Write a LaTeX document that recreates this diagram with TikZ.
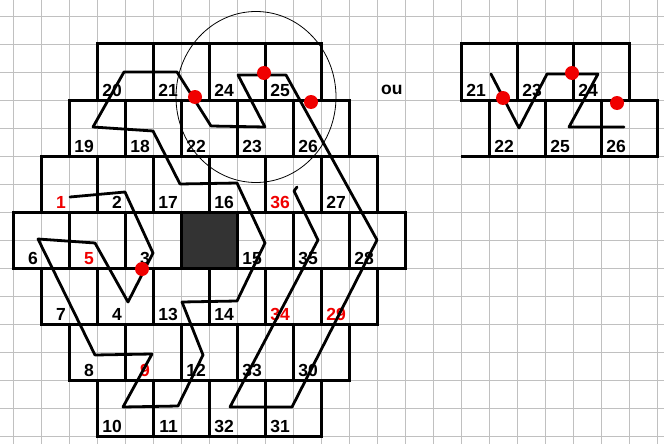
\documentclass[tikz,border=0pt]{standalone}
\usepackage{fontspec}
\setmainfont{Liberation Sans}
\usetikzlibrary{calc}
\definecolor{gridc}{RGB}{192,192,192}
\definecolor{redc}{RGB}{240,0,0}
\definecolor{darkc}{RGB}{51,51,51}
\tikzset{
  gridline/.style={draw=gridc, line width=0.9pt},
  cell/.style={draw=black, line width=3pt, rectangle, minimum width=56pt, minimum height=56pt, inner sep=0pt, outer sep=0pt, anchor=north west},
  darkcell/.style={cell, fill=darkc},
  lab/.style={font=\bfseries\fontsize{17.5}{18}\selectfont, inner sep=0pt, anchor=base east},
  redlab/.style={lab, text=redc},
  route/.style={draw=black, line width=2.8pt, line join=round, line cap=round},
  dot/.style={fill=redc, draw=none},
  ring/.style={draw=black, line width=0.8pt}
}
\newcommand\mycell[4]{%
  \node[cell] (c#3) at (#1,#2) {};
  \node[lab] (t#3) at (#1+25,#2+52) {#3};}
\newcommand\myredcell[4]{%
  \node[cell] (c#3) at (#1,#2) {};
  \node[redlab] (t#3) at (#1+25,#2+52) {#3};}
\newcommand\myrcell[3]{%
  \node[cell] (r#3) at (#1,#2) {};
  \node[lab] (rt#3) at (#1+25,#2+52) {#3};}
\begin{document}
\begin{tikzpicture}[x=1pt,y=-1pt]
\useasboundingbox (0,0) rectangle (664,444);
\fill[white] (0,0) rectangle (664,444);
% background grid
\foreach \i in {0,...,23} \draw[gridline] (13+28*\i,0) -- (13+28*\i,444);
\foreach \j in {0,...,15} \draw[gridline] (0,16+28*\j) -- (664,16+28*\j);
% row 0
\mycell{97}{44}{20}{}
\mycell{153}{44}{21}{}
\mycell{209}{44}{24}{}
\mycell{265}{44}{25}{}
% row 1
\mycell{69}{100}{19}{}
\mycell{125}{100}{18}{}
\mycell{181}{100}{22}{}
\mycell{237}{100}{23}{}
\mycell{293}{100}{26}{}
% row 2
\myredcell{41}{156}{1}{}
\mycell{97}{156}{2}{}
\mycell{153}{156}{17}{}
\mycell{209}{156}{16}{}
\myredcell{265}{156}{36}{}
\mycell{321}{156}{27}{}
% row 3
\mycell{13}{212}{6}{}
\myredcell{69}{212}{5}{}
\mycell{125}{212}{3}{}
\node[darkcell] (cdark) at (181,212) {};
\mycell{237}{212}{15}{}
\mycell{293}{212}{35}{}
\mycell{349}{212}{28}{}
% row 4
\mycell{41}{268}{7}{}
\mycell{97}{268}{4}{}
\mycell{153}{268}{13}{}
\mycell{209}{268}{14}{}
\myredcell{265}{268}{34}{}
\myredcell{321}{268}{29}{}
% row 5
\mycell{69}{324}{8}{}
\myredcell{125}{324}{9}{}
\mycell{181}{324}{12}{}
\mycell{237}{324}{33}{}
\mycell{293}{324}{30}{}
% row 6
\mycell{97}{380}{10}{}
\mycell{153}{380}{11}{}
\mycell{209}{380}{32}{}
\mycell{265}{380}{31}{}
% right panel
\myrcell{461}{44}{21}
\myrcell{517}{44}{23}
\myrcell{573}{44}{24}
\myrcell{489}{100}{22}
\myrcell{545}{100}{25}
\myrcell{601}{100}{26}
\coordinate (ra) at (461,156);
\draw[line width=3pt] (ra) -- (r22.south west);
\node[font=\bfseries\fontsize{17.5}{18}\selectfont, inner sep=0pt, anchor=base west] (ou) at (381,95) {ou};
% route coordinates
\coordinate (p1) at (70,197);
\coordinate (p2) at (125,192);
\coordinate (p3) at (153,253);
\coordinate (p4) at (128,302);
\coordinate (p5) at (95,243);
\coordinate (p6) at (38,239);
\coordinate (p8) at (95,355);
\coordinate (p9) at (152,354);
\coordinate (p10) at (123,407);
\coordinate (p11) at (178,406);
\coordinate (p12) at (203,355);
\coordinate (p13) at (182,302);
\coordinate (p14) at (237,301);
\coordinate (p15) at (265,243);
\coordinate (p16) at (237,183);
\coordinate (p17) at (180,184);
\coordinate (p18) at (153,131);
\coordinate (p19) at (93,127);
\coordinate (p20) at (124,72);
\coordinate (p21) at (177,72);
\coordinate (p22) at (211,126);
\coordinate (p23) at (265,127);
\coordinate (p24) at (238,75);
\coordinate (p25) at (286,75);
\coordinate (p28) at (377,240);
\coordinate (p31) at (292,407);
\coordinate (p32) at (230,407);
\coordinate (p35) at (318,240);
\coordinate (p36) at (294,191);
\coordinate (p36b) at (297,187);
\draw[route] (p1) -- (p2) -- (p3) -- (p4) -- (p5) -- (p6) -- (p8) -- (p9) -- (p10) -- (p11) -- (p12) -- (p13) -- (p14) -- (p15) -- (p16) -- (p17) -- (p18) -- (p19) -- (p20) -- (p21) -- (p22) -- (p23) -- (p24) -- (p25) -- (p28) -- (p31) -- (p32) -- (p35) -- (p36) -- (p36b);
% right panel route
\coordinate (q1) at (491,74);
\coordinate (q2) at (519,128);
\coordinate (q3) at (547,74);
\coordinate (q4) at (598,74);
\coordinate (q5) at (569,127);
\coordinate (q6) at (624,127);
\draw[route] (q1) -- (q2) -- (q3) -- (q4) -- (q5) -- (q6);
% red dots
\fill[dot] (142,269) circle[radius=7];
\fill[dot] (195,97) circle[radius=7];
\fill[dot] (264,73) circle[radius=7];
\fill[dot] (311,102) circle[radius=7];
\fill[dot] (503,98) circle[radius=7];
\fill[dot] (572,73) circle[radius=7];
\fill[dot] (617,103) circle[radius=7];
% circle
\draw[ring] (256,97) ellipse[x radius=80, y radius=85.5];
\end{tikzpicture}
\end{document}
